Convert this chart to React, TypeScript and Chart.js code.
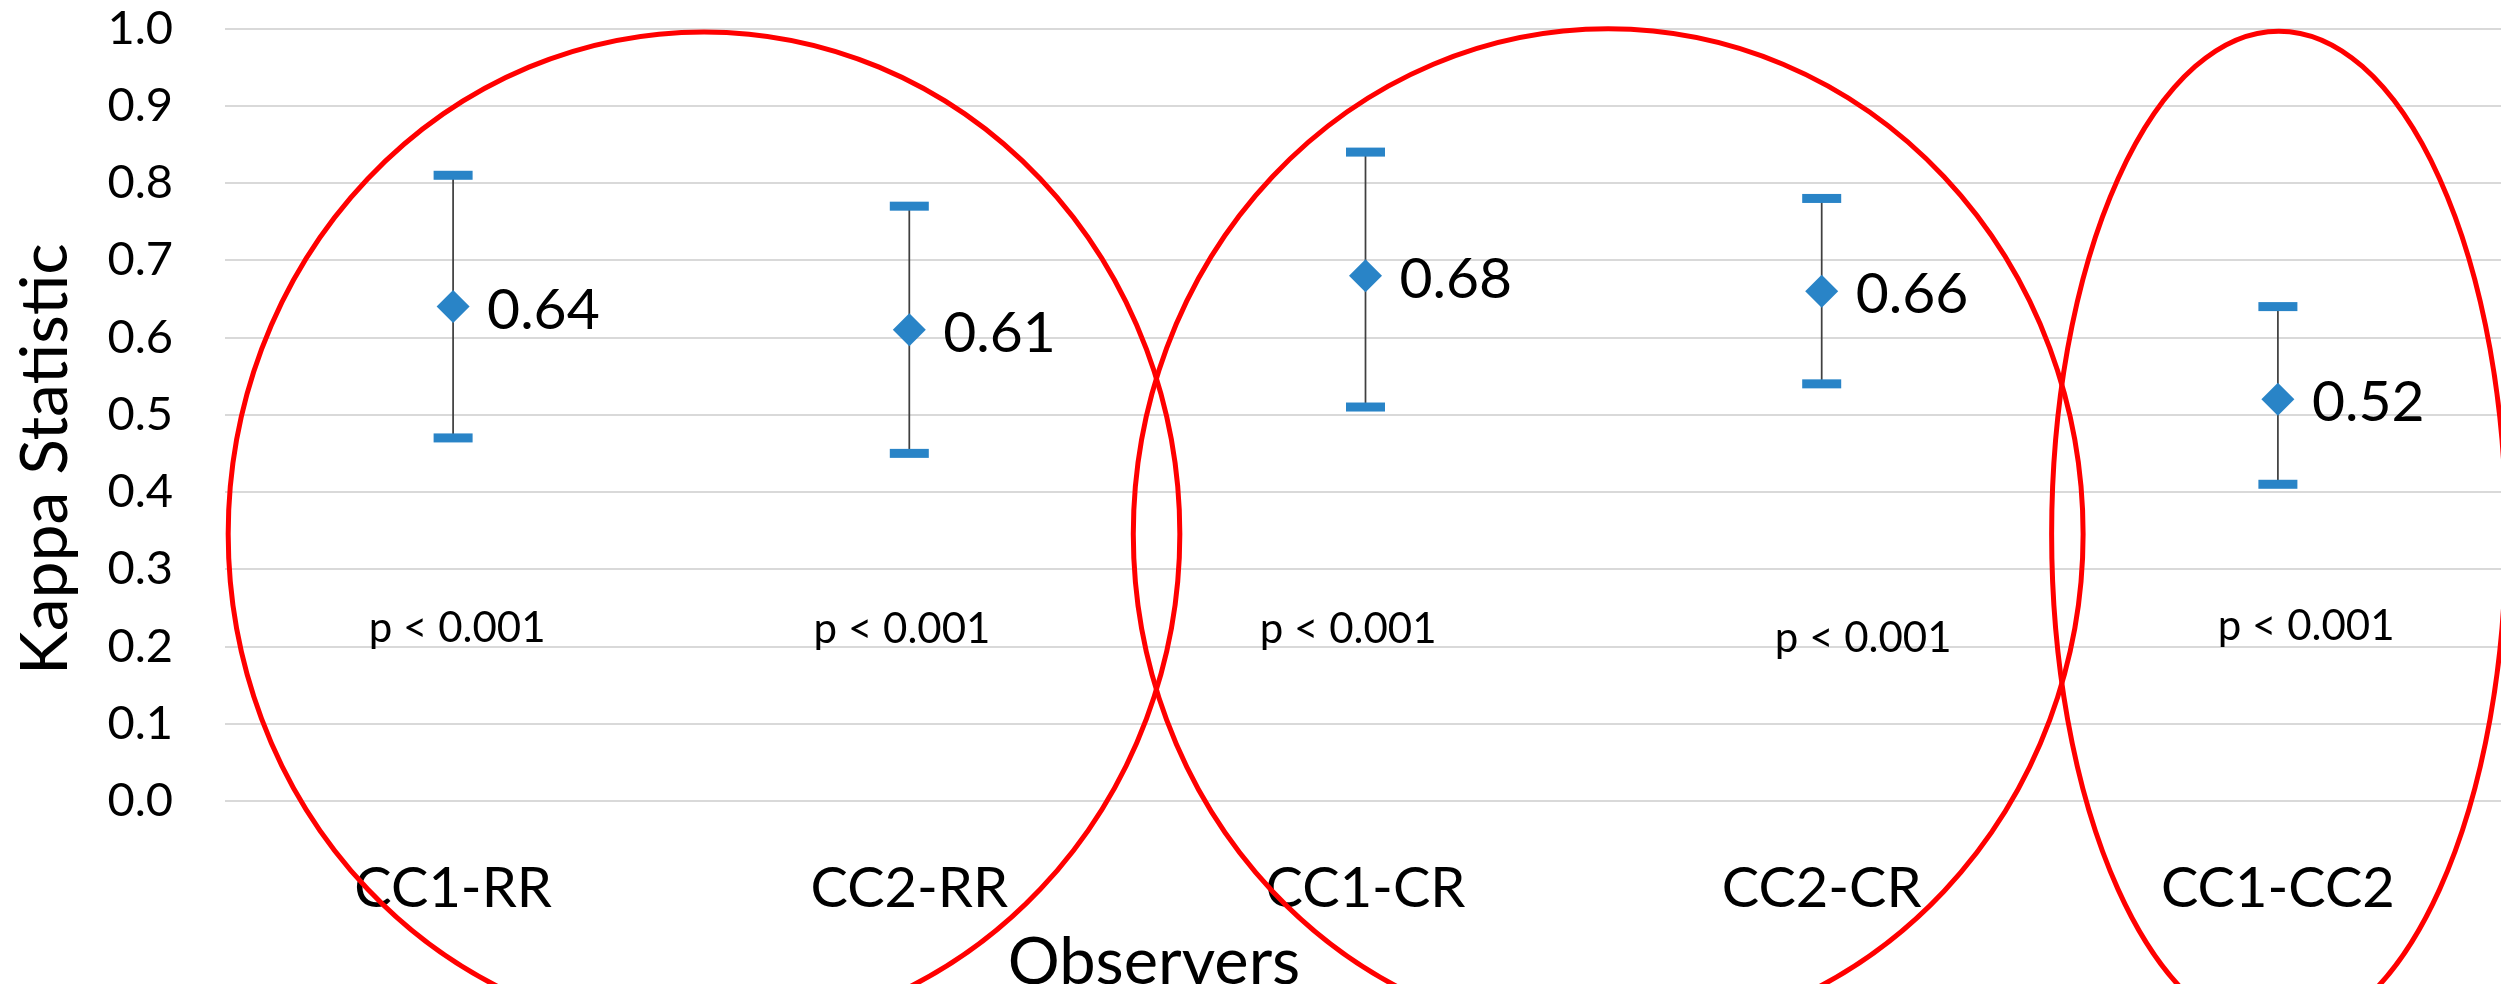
import React, { useEffect, useRef } from 'react';
import { Chart, registerables } from 'chart.js';

Chart.register(...registerables);

// ---- data ----
const categories = ['CC1-RR', 'CC2-RR', 'CC1-CR', 'CC2-CR', 'CC1-CC2'];
const kappaValues = [0.64, 0.61, 0.68, 0.66, 0.52];
const ciLower = [0.47, 0.45, 0.51, 0.54, 0.41];
const ciUpper = [0.81, 0.77, 0.84, 0.78, 0.64];
const pValueLabels = ['p < 0.001', 'p < 0.001', 'p < 0.001', 'p < 0.001', 'p < 0.001'];
const yAxisTitle = 'Kappa Statistic';
const xAxisTitle = 'Observers';

// ---- annotation placement (data units) ----
const pLabelPlacement = [
  { dx: 0.009, y: 0.2058 },
  { dx: -0.016, y: 0.2045 },
  { dx: -0.038, y: 0.2045 },
  { dx: 0.091, y: 0.1929 },
  { dx: 0.062, y: 0.2084 },
];
const ellipseShapes = [
  { cx: 0.55, cy: 0.3456, rx: 1.043, ry: 0.65 },
  { cx: 2.532, cy: 0.3456, rx: 1.041, ry: 0.654 },
  { cx: 4.002, cy: 0.3456, rx: 0.498, ry: 0.651 },
];

const FONT = 'Lato, "Open Sans", sans-serif';
const BLUE = '#2984C7';

const overlayPlugin = {
  id: 'overlay',
  beforeDatasetsDraw(chart: any) {
    const { ctx } = chart;
    const xs = chart.scales.x;
    const ys = chart.scales.y;
    ctx.save();
    kappaValues.forEach((_, i) => {
      const px = xs.getPixelForValue(i);
      const yu = ys.getPixelForValue(ciUpper[i]);
      const yl = ys.getPixelForValue(ciLower[i]);
      ctx.strokeStyle = '#404040';
      ctx.lineWidth = 1.75;
      ctx.beginPath();
      ctx.moveTo(px, yu);
      ctx.lineTo(px, yl);
      ctx.stroke();
      ctx.fillStyle = BLUE;
      ctx.fillRect(px - 19.5, yu - 4.5, 39, 9);
      ctx.fillRect(px - 19.5, yl - 4.5, 39, 9);
    });
    ctx.restore();
  },
  afterDatasetsDraw(chart: any) {
    const { ctx } = chart;
    const xs = chart.scales.x;
    const ys = chart.scales.y;
    ctx.save();
    ctx.fillStyle = '#000';
    ctx.textBaseline = 'alphabetic';
    ctx.textAlign = 'left';
    ctx.font = `57px ${FONT}`;
    kappaValues.forEach((v, i) => {
      const px = xs.getPixelForValue(i);
      const py = ys.getPixelForValue(v);
      ctx.fillText(v.toFixed(2), px + 34, py + 22);
    });
    ctx.textAlign = 'center';
    ctx.font = `42px ${FONT}`;
    pValueLabels.forEach((t, i) => {
      const p = pLabelPlacement[i];
      ctx.fillText(t, xs.getPixelForValue(i + p.dx), ys.getPixelForValue(p.y));
    });
    ctx.restore();
  },
  afterDraw(chart: any) {
    const { ctx } = chart;
    const xs = chart.scales.x;
    const ys = chart.scales.y;
    ctx.save();
    // axis titles
    ctx.fillStyle = '#000';
    ctx.font = `66px ${FONT}`;
    ctx.textAlign = 'center';
    ctx.textBaseline = 'alphabetic';
    ctx.save();
    ctx.translate(67, 459);
    ctx.rotate(-Math.PI / 2);
    ctx.fillText(yAxisTitle, 0, 0);
    ctx.restore();
    ctx.font = `65px ${FONT}`;
    ctx.fillText(xAxisTitle, 1154, 984);
    // ellipses
    ctx.strokeStyle = '#FF0000';
    ctx.lineWidth = 5;
    ellipseShapes.forEach((e) => {
      const cx = xs.getPixelForValue(e.cx);
      const cy = ys.getPixelForValue(e.cy);
      const rx = xs.getPixelForValue(e.cx + e.rx) - cx;
      const ry = ys.getPixelForValue(e.cy) - ys.getPixelForValue(e.cy + e.ry);
      ctx.beginPath();
      ctx.ellipse(cx, cy, rx, ry, 0, 0, Math.PI * 2);
      ctx.stroke();
    });
    ctx.restore();
  },
};

export default function App() {
  const canvasRef = useRef<HTMLCanvasElement | null>(null);

  useEffect(() => {
    if (!canvasRef.current) return;
    const chart = new Chart(canvasRef.current, {
      type: 'line',
      data: {
        labels: categories,
        datasets: [
          {
            data: kappaValues,
            showLine: false,
            pointStyle: 'rectRot',
            pointRadius: 16.5,
            pointHoverRadius: 16.5,
            pointBackgroundColor: BLUE,
            pointBorderWidth: 0,
            borderColor: BLUE,
            backgroundColor: BLUE,
            clip: false,
          },
        ],
      },
      options: {
        animation: false,
        responsive: false,
        events: [],
        layout: { autoPadding: false, padding: { top: 28.5, right: 0, bottom: 0, left: 0 } },
        plugins: { legend: { display: false }, tooltip: { enabled: false } },
        scales: {
          x: {
            offset: true,
            grid: { display: false },
            border: { display: false },
            ticks: {
              color: '#000',
              font: { family: FONT, size: 56, lineHeight: 1 },
              padding: 51.5,
              autoSkip: false,
              maxRotation: 0,
              minRotation: 0,
            },
            afterFit(s: any) {
              s.height = 183;
              s.paddingLeft = 0;
              s.paddingRight = 0;
            },
          },
          y: {
            min: 0,
            max: 1,
            grid: { color: '#d9d9d9', lineWidth: 2, drawTicks: false },
            border: { display: false },
            ticks: {
              stepSize: 0.1,
              color: '#000',
              font: { family: FONT, size: 47, lineHeight: 1 },
              padding: 52,
              callback: (v: any) => Number(v).toFixed(1),
            },
            afterFit(s: any) {
              s.width = 225;
              s.paddingTop = 0;
              s.paddingBottom = 0;
            },
          },
        },
      },
      plugins: [overlayPlugin],
    });
    return () => chart.destroy();
  }, []);

  return (
    <div style={{ position: 'absolute', left: 0, top: 0, width: 2501, height: 984, overflow: 'hidden', background: '#fff' }}>
      <canvas ref={canvasRef} width={2506} height={984} style={{ display: 'block', width: 2506, height: 984 }} />
    </div>
  );
}
